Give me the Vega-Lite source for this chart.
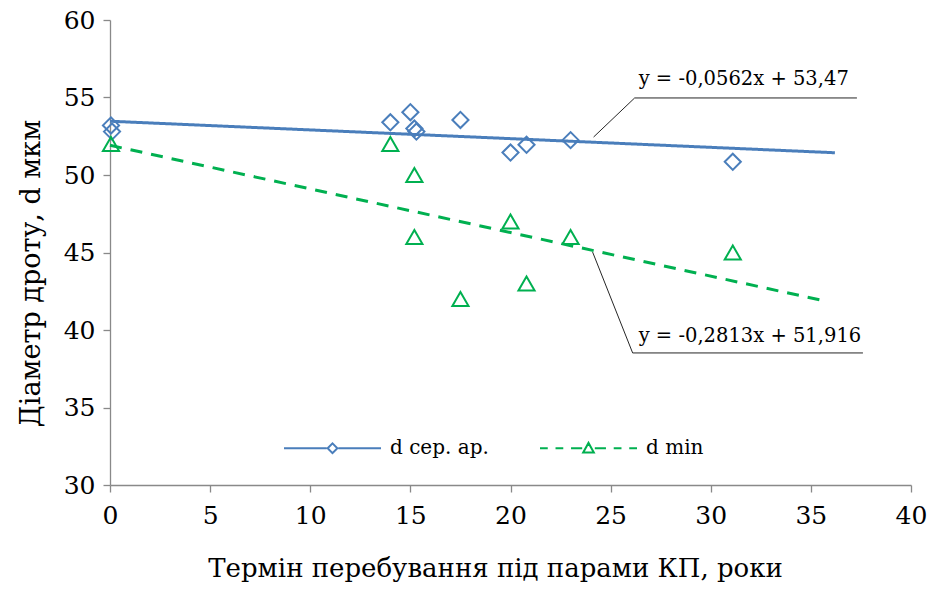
{
  "$schema": "https://vega.github.io/schema/vega-lite/v6.json",
  "width": 801,
  "height": 465,
  "autosize": {"type": "none"},
  "padding": {"left": 110, "top": 20, "right": 20, "bottom": 105},
  "background": "white",
  "config": {
    "view": {"stroke": null},
    "font": "DejaVu Serif",
    "axis": {
      "grid": false,
      "domainColor": "#898989",
      "tickColor": "#898989",
      "domainWidth": 1.3,
      "tickWidth": 1.3,
      "tickSize": 7,
      "labelFlush": false,
      "labelFont": "DejaVu Serif",
      "labelFontSize": 25,
      "labelColor": "#000000",
      "titleFont": "DejaVu Serif",
      "titleColor": "#000000",
      "titleFontWeight": "normal"
    }
  },
  "datasets": {
    "trend": [
      {"series": "d сер. ар.", "t": 0, "d": 53.47},
      {"series": "d сер. ар.", "t": 36.2, "d": 51.436},
      {"series": "d min", "t": 0, "d": 51.916},
      {"series": "d min", "t": 35.6, "d": 41.9}
    ],
    "points": [
      {"series": "d сер. ар.", "t": 0.05, "d": 53.2},
      {"series": "d сер. ар.", "t": 0.1, "d": 52.8},
      {"series": "d сер. ар.", "t": 14, "d": 53.4},
      {"series": "d сер. ар.", "t": 15, "d": 54.05},
      {"series": "d сер. ар.", "t": 15.2, "d": 53.0},
      {"series": "d сер. ар.", "t": 15.3, "d": 52.8},
      {"series": "d сер. ар.", "t": 17.5, "d": 53.55},
      {"series": "d сер. ар.", "t": 20, "d": 51.45},
      {"series": "d сер. ар.", "t": 20.8, "d": 51.95},
      {"series": "d сер. ар.", "t": 23, "d": 52.25},
      {"series": "d сер. ар.", "t": 31.1, "d": 50.85},
      {"series": "d min", "t": 0.05, "d": 52},
      {"series": "d min", "t": 14, "d": 52},
      {"series": "d min", "t": 15.2, "d": 50},
      {"series": "d min", "t": 15.2, "d": 46},
      {"series": "d min", "t": 17.5, "d": 42},
      {"series": "d min", "t": 20, "d": 47},
      {"series": "d min", "t": 20.8, "d": 43},
      {"series": "d min", "t": 23, "d": 46},
      {"series": "d min", "t": 31.1, "d": 45}
    ],
    "leaders": [
      {"id": "a", "k": 1, "t": 24.15, "d": 52.45},
      {"id": "a", "k": 2, "t": 26.2, "d": 54.97},
      {"id": "a", "k": 3, "t": 37.3, "d": 54.97},
      {"id": "b", "k": 1, "t": 24.1, "d": 45.03},
      {"id": "b", "k": 2, "t": 26.1, "d": 38.52},
      {"id": "b", "k": 3, "t": 37.6, "d": 38.52}
    ],
    "eqs": [
      {"t": 26.4, "d": 55.81, "label": "y = -0,0562x + 53,47"},
      {"t": 26.4, "d": 39.23, "label": "y = -0,2813x + 51,916"}
    ]
  },
  "encoding": {
    "x": {
      "field": "t",
      "type": "quantitative",
      "scale": {"domain": [0, 40], "nice": false, "zero": false},
      "axis": {
        "values": [0, 5, 10, 15, 20, 25, 30, 35, 40],
        "labelPadding": 11,
        "labelBaseline": "top",
        "title": "Термін перебування під парами КП, роки",
        "titleFontSize": 26,
        "titleX": 385,
        "titleY": 91,
        "titleAlign": "center",
        "titleBaseline": "alphabetic"
      }
    },
    "y": {
      "field": "d",
      "type": "quantitative",
      "scale": {"domain": [30, 60], "nice": false, "zero": false},
      "axis": {
        "values": [30, 35, 40, 45, 50, 55, 60],
        "labelPadding": 8,
        "title": "Діаметр дроту, d мкм",
        "titleFontSize": 27,
        "titleAngle": -90,
        "titleX": -71,
        "titleY": 253,
        "titleAlign": "center",
        "titleBaseline": "alphabetic"
      }
    }
  },
  "resolve": {"scale": {"color": "independent", "shape": "independent"}},
  "layer": [
    {
      "data": {"name": "trend"},
      "mark": {"type": "line", "strokeWidth": 3},
      "encoding": {
        "color": {
          "field": "series",
          "type": "nominal",
          "scale": {"domain": ["d сер. ар.", "d min"], "range": ["#4A7EBB", "#00B050"]},
          "legend": null
        },
        "strokeDash": {
          "field": "series",
          "type": "nominal",
          "scale": {"domain": ["d сер. ар.", "d min"], "range": [[1, 0], [12, 9]]},
          "legend": null
        }
      }
    },
    {
      "data": {"name": "points"},
      "mark": {"type": "point", "filled": false, "strokeWidth": 2, "size": 260, "opacity": 1},
      "encoding": {
        "color": {
          "field": "series",
          "type": "nominal",
          "scale": {"domain": ["d сер. ар.", "d min"], "range": ["#4A7EBB", "#00B050"]},
          "legend": null
        },
        "shape": {
          "field": "series",
          "type": "nominal",
          "scale": {"domain": ["d сер. ар.", "d min"], "range": ["diamond", "triangle-up"]},
          "legend": null
        }
      }
    },
    {
      "data": {"name": "trend"},
      "mark": {"type": "point", "filled": false, "strokeWidth": 2, "opacity": 0},
      "encoding": {
        "color": {
          "field": "series",
          "type": "nominal",
          "scale": {"domain": ["d сер. ар.", "d min"], "range": ["#4A7EBB", "#00B050"]},
          "legend": {
            "title": null,
            "orient": "none",
            "direction": "horizontal",
            "legendX": 173,
            "legendY": 378.5,
            "padding": 0,
            "symbolSize": 9409,
            "symbolStrokeWidth": 2,
            "symbolOpacity": 1,
            "symbolFillColor": "transparent",
            "labelFont": "DejaVu Serif",
            "labelFontSize": 20,
            "labelColor": "#000000",
            "labelOffset": 8,
            "labelLimit": 300,
            "columnPadding": 47
          }
        },
        "shape": {
          "field": "series",
          "type": "nominal",
          "scale": {
            "domain": ["d сер. ар.", "d min"],
            "range": [
              "M-1,0H-0.12M0.12,0H1M-0.1,0L0,-0.1L0.1,0L0,0.1Z",
              "M-1,0H-0.84M-0.68,0H-0.52M-0.36,0H-0.13M0.13,0H0.36M0.52,0H0.68M0.84,0H1M-0.11,0.09L0.11,0.09L0,-0.11Z"
            ]
          },
          "legend": {
            "title": null,
            "orient": "none",
            "direction": "horizontal",
            "legendX": 173,
            "legendY": 378.5,
            "padding": 0,
            "symbolSize": 9409,
            "symbolStrokeWidth": 2,
            "symbolOpacity": 1,
            "symbolFillColor": "transparent",
            "labelFont": "DejaVu Serif",
            "labelFontSize": 20,
            "labelColor": "#000000",
            "labelOffset": 8,
            "labelLimit": 300,
            "columnPadding": 47
          }
        }
      }
    },
    {
      "data": {"name": "leaders"},
      "mark": {"type": "line", "strokeWidth": 1, "color": "#262626"},
      "encoding": {
        "detail": {"field": "id", "type": "nominal"},
        "order": {"field": "k", "type": "quantitative"}
      }
    },
    {
      "data": {"name": "eqs"},
      "mark": {"type": "text", "align": "left", "baseline": "alphabetic", "font": "DejaVu Serif", "fontSize": 19.5, "color": "#000000"},
      "encoding": {
        "text": {"field": "label", "type": "nominal"}
      }
    }
  ]
}
